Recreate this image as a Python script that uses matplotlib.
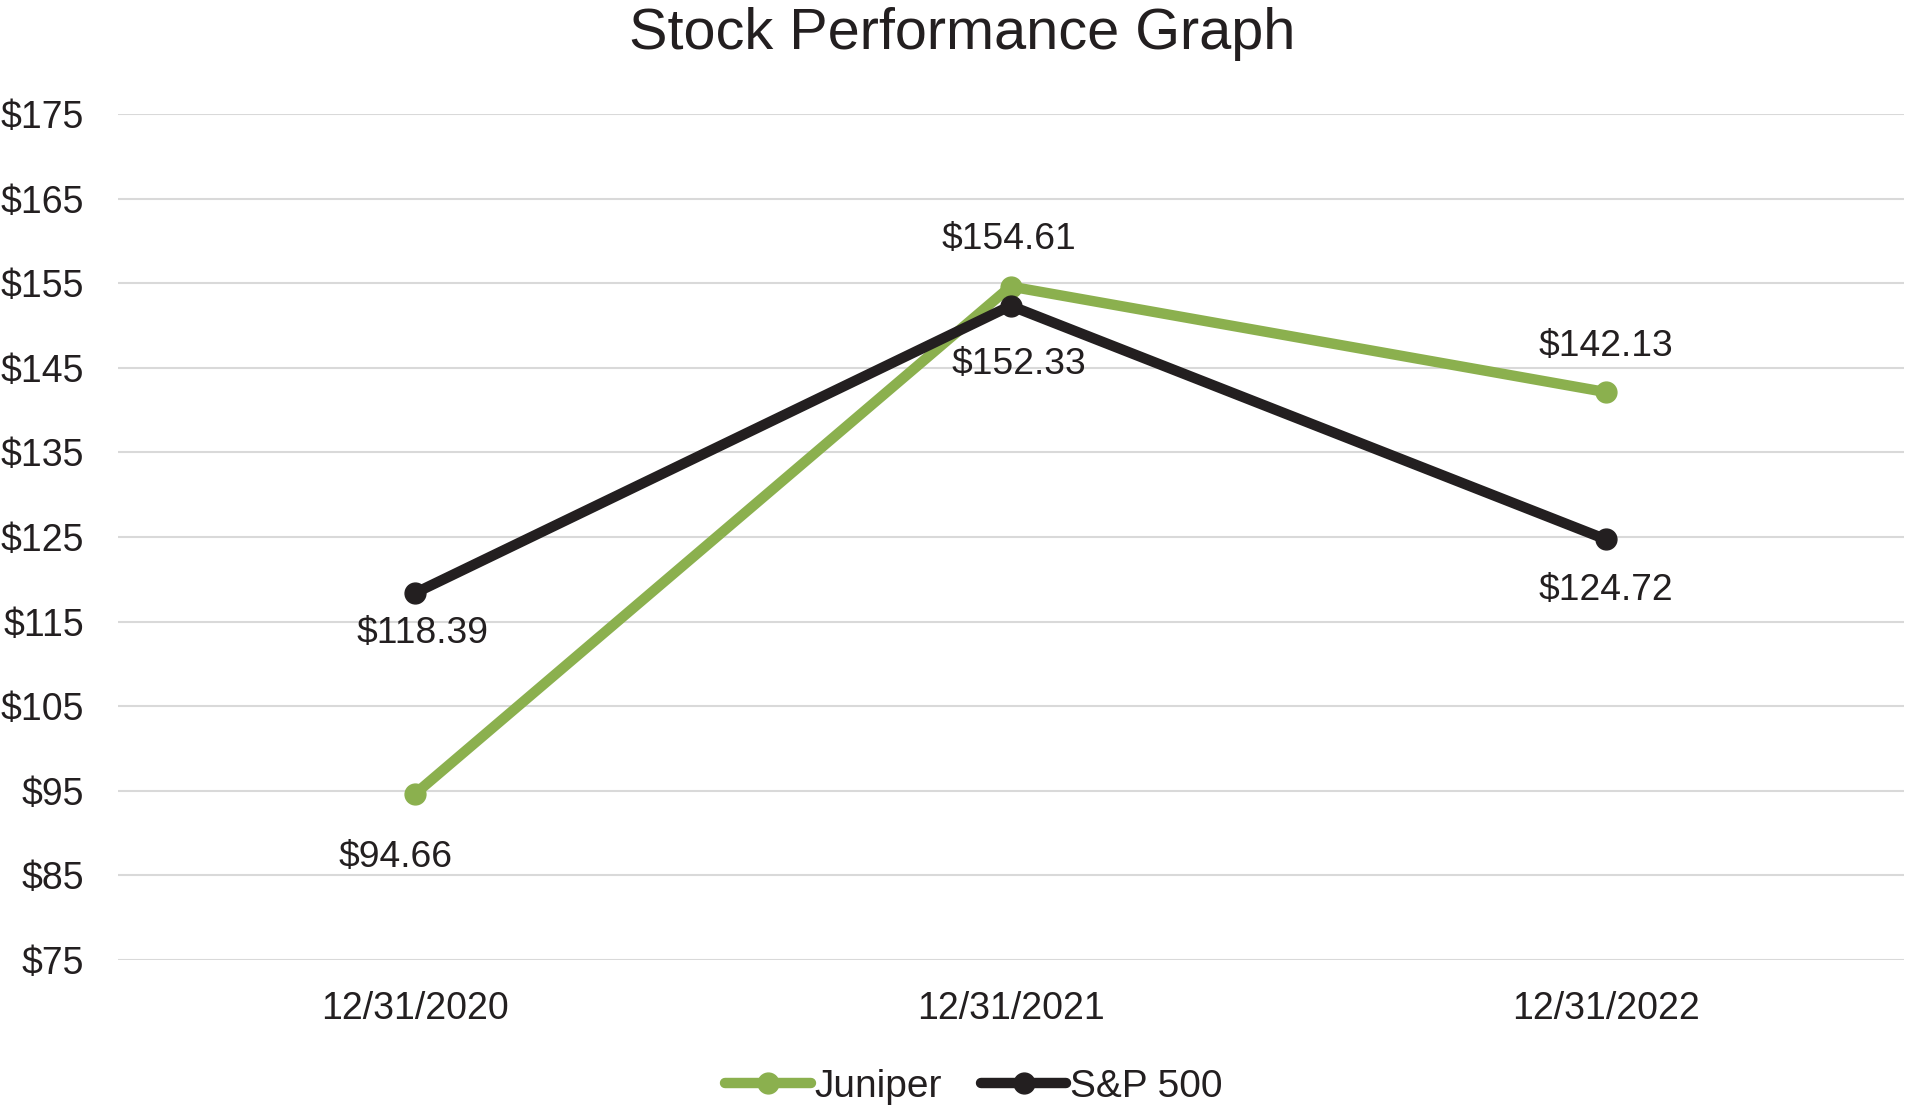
import matplotlib; matplotlib.use("Agg")
import matplotlib.pyplot as plt

dates = ["12/31/2020", "12/31/2021", "12/31/2022"]
juniper = [94.66, 154.61, 142.13]
sp500 = [118.39, 152.33, 124.72]
yticks = [75, 85, 95, 105, 115, 125, 135, 145, 155, 165, 175]

GREEN, INK, GRID = "#8bb04e", "#231f20", "#d9d9d9"
# label offsets in points, one per point
J_OFF = [(-14, -46), (-1, 34), (0, 33)]
S_OFF = [(5, -29), (6, -42), (0, -37)]

plt.rcParams["font.family"] = ["Liberation Sans", "DejaVu Sans"]
fig = plt.figure(figsize=(19.06, 11.10), dpi=100)
ax = fig.add_axes([0.0617, 0.1351, 0.9370, 0.7622])
x = list(range(len(dates)))

ax.plot(x, juniper, color=GREEN, lw=7.5, marker="o", ms=15, label="Juniper",
        solid_capstyle="round", zorder=3)
ax.plot(x, sp500, color=INK, lw=7.5, marker="o", ms=15, label="S&P 500",
        solid_capstyle="round", zorder=4)

for xi, v, off in zip(x, juniper, J_OFF):
    ax.annotate(f"${v:.2f}", (xi, v), textcoords="offset points", xytext=off,
                ha="center", va="center", fontsize=26.8, color=INK)
for xi, v, off in zip(x, sp500, S_OFF):
    ax.annotate(f"${v:.2f}", (xi, v), textcoords="offset points", xytext=off,
                ha="center", va="center", fontsize=26.8, color=INK)

ax.set_xlim(-0.5, 2.5)
ax.set_ylim(75, 175)
ax.set_xticks(x, dates)
ax.set_yticks(yticks, [f"${t}" for t in yticks])
ax.tick_params(axis="both", length=0, labelsize=27, colors=INK)
ax.tick_params(axis="y", pad=24)
ax.tick_params(axis="x", pad=22)
ax.grid(axis="y", color=GRID, lw=1.5, zorder=0)
ax.set_axisbelow(True)
for sp in ax.spines.values():
    sp.set_visible(False)

fig.text(0.505, 0.969, "Stock Performance Graph", ha="center", va="center",
         fontsize=41.5, color=INK)
fig.legend(loc="center", bbox_to_anchor=(0.511, 0.021), ncol=2, frameon=False,
           fontsize=28, handlelength=2.2, handletextpad=0.1, columnspacing=1.0,
           labelcolor=INK)

fig.savefig("out.png", dpi=100, facecolor="white")
